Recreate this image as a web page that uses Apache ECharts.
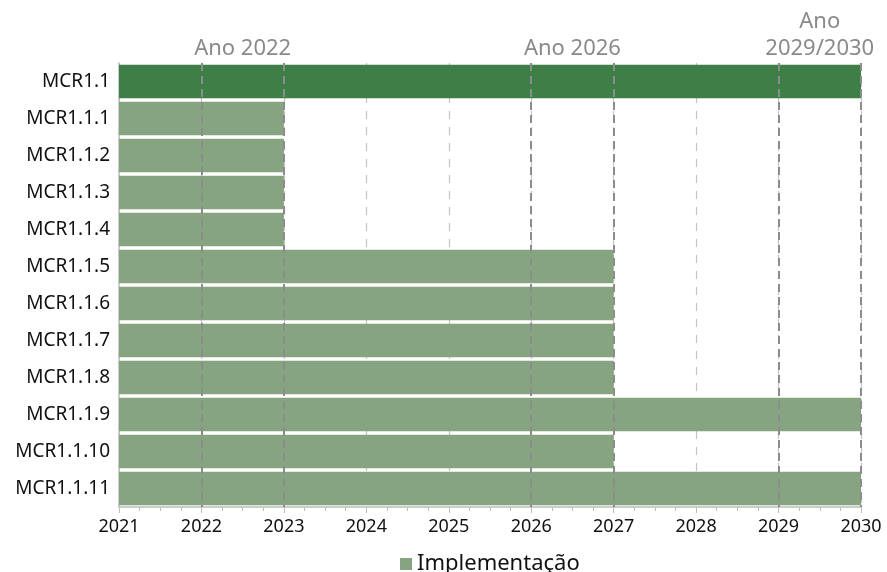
<!DOCTYPE html>
<html><head><meta charset="utf-8">
<script src="https://cdn.jsdelivr.net/npm/echarts@6/dist/echarts.min.js"></script>
<style>html,body{margin:0;padding:0;background:#fff}#c{width:887px;height:572px}</style>
</head><body><div id="c"></div>
<script>
const categories = ['MCR1.1','MCR1.1.1','MCR1.1.2','MCR1.1.3','MCR1.1.4','MCR1.1.5','MCR1.1.6','MCR1.1.7','MCR1.1.8','MCR1.1.9','MCR1.1.10','MCR1.1.11'];
const startYear = 2021;
const endYears = [2030, 2023, 2023, 2023, 2023, 2027, 2027, 2027, 2027, 2030, 2027, 2030];
const seriesName = 'Implementação';
const milestoneLines = [2022, 2023, 2026, 2027, 2029, 2030];
const milestoneLabels = [['Ano 2022', 2022, 2023], ['Ano 2026', 2026, 2027], ['Ano\n2029/2030', 2029, 2030]];
const xMin = 2021, xMax = 2030;

const FONT = 'Noto Sans';
const LIGHT = '#86a47f', DARK = '#3e7e47';

const chart = echarts.init(document.getElementById('c'), null, {renderer: 'canvas'});
chart.setOption({
  animation: false,
  textStyle: {fontFamily: FONT},
  grid: {left: 119, right: 26, top: 63, bottom: 65, containLabel: false},
  legend: {
    data: [seriesName], left: 400, top: 553, padding: 0, itemWidth: 12, itemHeight: 12,
    icon: 'rect',
    textStyle: {fontSize: 22, color: '#111', fontFamily: FONT}
  },
  xAxis: {
    type: 'value', min: xMin, max: xMax, interval: 1,
    axisLine: {show: true, lineStyle: {color: '#bdbdbd', width: 1.5}},
    axisTick: {show: true, length: 6, lineStyle: {color: '#bdbdbd'}},
    minorTick: {show: true, splitNumber: 4, length: 4, lineStyle: {color: '#bdbdbd'}},
    axisLabel: {fontSize: 18, color: '#111', margin: 11, fontFamily: FONT, formatter: v => String(v)},
    splitLine: {show: true, lineStyle: {color: '#c4c4c4', type: [8, 8], width: 1.2}}
  },
  yAxis: {
    type: 'category', data: categories, inverse: true,
    axisLine: {show: true, lineStyle: {color: '#bdbdbd', width: 1.5}},
    axisTick: {show: false},
    axisLabel: {fontSize: 19, color: '#111', margin: 9, fontFamily: FONT}
  },
  series: [{
    name: seriesName, type: 'bar', barCategoryGap: '10%', startValue: startYear,
    itemStyle: {color: LIGHT},
    data: endYears.map((v, i) => i === 0 ? {value: v, itemStyle: {color: DARK}} : v),
    markLine: {
      silent: true, symbol: 'none',
      lineStyle: {color: '#8c8c8c', type: [8, 5], width: 2},
      label: {show: false},
      data: milestoneLines.map(x => ({xAxis: x}))
    },
    markArea: {
      silent: true,
      itemStyle: {color: 'rgba(0,0,0,0)'},
      label: {show: true, position: 'top', distance: 1, color: '#8a8a8a', fontSize: 22, lineHeight: 27, fontFamily: FONT, align: 'center'},
      data: milestoneLabels.map(m => [{name: m[0], xAxis: m[1]}, {xAxis: m[2]}])
    }
  }]
});
</script></body></html>
